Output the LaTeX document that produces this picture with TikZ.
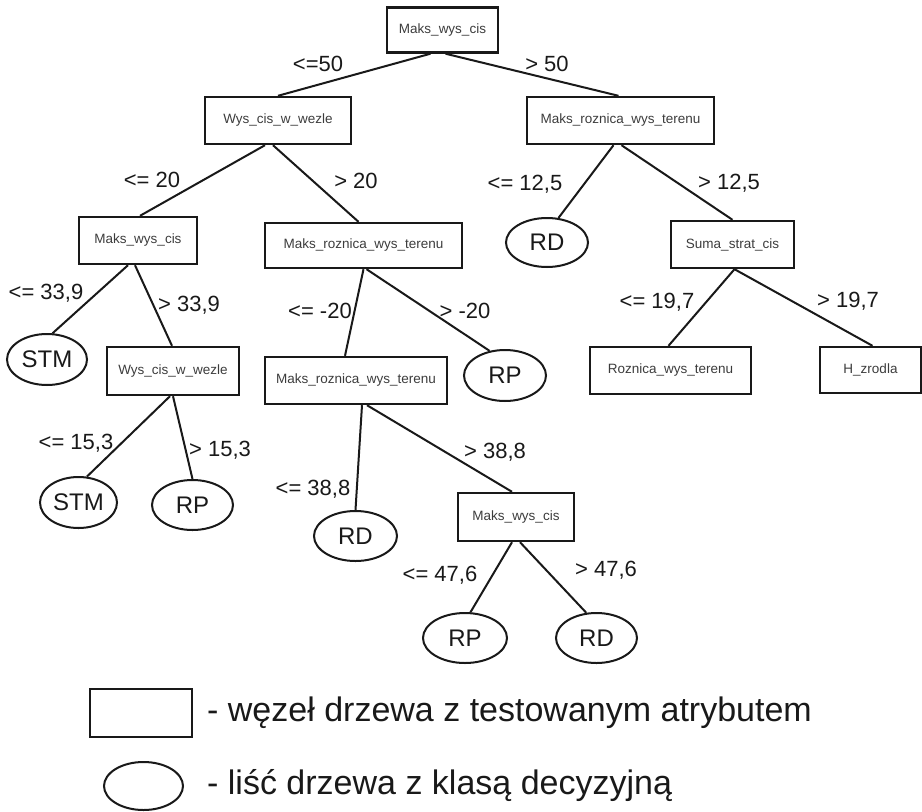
\documentclass[tikz,border=0pt]{standalone}
\usepackage{fontspec}
\setmainfont{Liberation Sans}
\usepackage{tikz}
\usetikzlibrary{shapes.geometric}
\definecolor{BoxText}{RGB}{60,60,60}
\definecolor{LineBlack}{RGB}{25,25,25}

\tikzset{
  treebox/.style={draw=LineBlack, line width=2.4pt, rectangle, inner sep=0pt,
    text=BoxText, font=\fontsize{13.5}{15}\selectfont},
  leafnode/.style={draw=LineBlack, line width=2pt, ellipse, inner sep=0pt,
    text=LineBlack, font=\fontsize{24}{28}\selectfont},
  cond/.style={text=LineBlack, inner sep=0pt, font=\fontsize{22}{26}\selectfont},
  legtext/.style={text=LineBlack, inner sep=0pt, anchor=west, font=\fontsize{34}{40}\selectfont},
  branch/.style={draw=LineBlack, line width=2pt}
}

\begin{document}
\begin{tikzpicture}[x=1pt, y=-1pt]
  \useasboundingbox (0,0) rectangle (922,812);
  % tested attribute nodes
  \node[treebox, minimum width=111, minimum height=45] (root) at (442.5,30) {Maks\_wys\_cis};
  \node[treebox, minimum width=146, minimum height=47] (wysA) at (278,120.5) {Wys\_cis\_w\_wezle};
  \node[treebox, minimum width=187, minimum height=47] (roznA) at (620.5,120.5) {Maks\_roznica\_wys\_terenu};
  \node[treebox, minimum width=118, minimum height=47] (maksB) at (138,240.5) {Maks\_wys\_cis};
  \node[treebox, minimum width=197, minimum height=45] (roznB) at (363.5,245.5) {Maks\_roznica\_wys\_terenu};
  \node[treebox, minimum width=123, minimum height=47] (suma) at (732.5,244.5) {Suma\_strat\_cis};
  \node[treebox, minimum width=132, minimum height=48] (wysB) at (173,371) {Wys\_cis\_w\_wezle};
  \node[treebox, minimum width=182, minimum height=47] (roznC) at (356,380.5) {Maks\_roznica\_wys\_terenu};
  \node[treebox, minimum width=161, minimum height=47] (rozn) at (670.5,370.5) {Roznica\_wys\_terenu};
  \node[treebox, minimum width=101, minimum height=46] (hzr) at (870.5,370) {H\_zrodla};
  \node[treebox, minimum width=116, minimum height=48] (maksC) at (516,517) {Maks\_wys\_cis};
  % leaves with decision class
  \node[leafnode, minimum width=82, minimum height=49] (rdA) at (547,242.5) {RD};
  \node[leafnode, minimum width=80, minimum height=51] (stmA) at (47,359.5) {STM};
  \node[leafnode, minimum width=82, minimum height=51] (rpA) at (505,375.5) {RP};
  \node[leafnode, minimum width=77, minimum height=51] (stmB) at (78.5,502.5) {STM};
  \node[leafnode, minimum width=81, minimum height=50] (rpB) at (192.5,505) {RP};
  \node[leafnode, minimum width=83, minimum height=50] (rdB) at (355.5,536) {RD};
  \node[leafnode, minimum width=84, minimum height=50] (rpC) at (465,638) {RP};
  \node[leafnode, minimum width=81, minimum height=50] (rdC) at (596.5,638) {RD};
  % branches
  \draw[branch] ([xshift=-12]root.south) -- (wysA.north);
  \draw[branch] ([xshift=3]root.south) -- ([xshift=-2]roznA.north);
  \draw[branch] ([xshift=-13]wysA.south) -- ([xshift=2]maksB.north);
  \draw[branch] ([xshift=-5]wysA.south) -- ([xshift=-5]roznB.north);
  \draw[branch] ([xshift=-7]roznA.south) -- (rdA.65);
  \draw[branch] ([xshift=1]roznA.south) -- (suma.north);
  \draw[branch] ([xshift=-10]maksB.south) -- (stmA.78);
  \draw[branch] ([xshift=-3]maksB.south) -- ([xshift=-1]wysB.north);
  \draw[branch] (roznB.south) -- ([xshift=-11]roznC.north);
  \draw[branch] ([xshift=3]roznB.south) -- (rpA.122);
  \draw[branch] ([xshift=2]suma.south) -- ([xshift=-2]rozn.north);
  \draw[branch] ([xshift=2]suma.south) -- ([xshift=2]hzr.north);
  \draw[branch] ([xshift=-3]wysB.south) -- (stmB.72);
  \draw[branch] (wysB.south) -- (rpB.north);
  \draw[branch] ([xshift=6]roznC.south) -- (rdB.north);
  \draw[branch] ([xshift=11]roznC.south) -- ([xshift=-4]maksC.north);
  \draw[branch] ([xshift=-4]maksC.south) -- (rpC.78);
  \draw[branch] ([xshift=4]maksC.south) -- (rdC.112);
  % conditions
  \node[cond] (c1) at (318,64) {<=50};
  \node[cond] (c2) at (547,64) {> 50};
  \node[cond] (c3) at (152,180) {<= 20};
  \node[cond] (c4) at (356,181) {> 20};
  \node[cond] (c5) at (525,184) {<= 12,5};
  \node[cond] (c6) at (729,183) {> 12,5};
  \node[cond] (c7) at (46,293) {<= 33,9};
  \node[cond] (c8) at (189,305) {> 33,9};
  \node[cond] (c9) at (320,311) {<= -20};
  \node[cond] (c10) at (465,311) {> -20};
  \node[cond] (c11) at (657,302) {<= 19,7};
  \node[cond] (c12) at (848,301) {> 19,7};
  \node[cond] (c13) at (76,443) {<= 15,3};
  \node[cond] (c14) at (220,450) {> 15,3};
  \node[cond] (c15) at (313,489) {<= 38,8};
  \node[cond] (c16) at (495,452) {> 38,8};
  \node[cond] (c17) at (440,575) {<= 47,6};
  \node[cond] (c18) at (606,570) {> 47,6};
  % legend
  \node[treebox, minimum width=102, minimum height=48] (legbox) at (141,713) {};
  \node[leafnode, minimum width=79, minimum height=48] (legleaf) at (143.5,786) {};
  \node[legtext] (legA) at (207,713) {- węzeł drzewa z testowanym atrybutem};
  \node[legtext] (legB) at (207,786) {- liść drzewa z klasą decyzyjną};
\end{tikzpicture}
\end{document}
